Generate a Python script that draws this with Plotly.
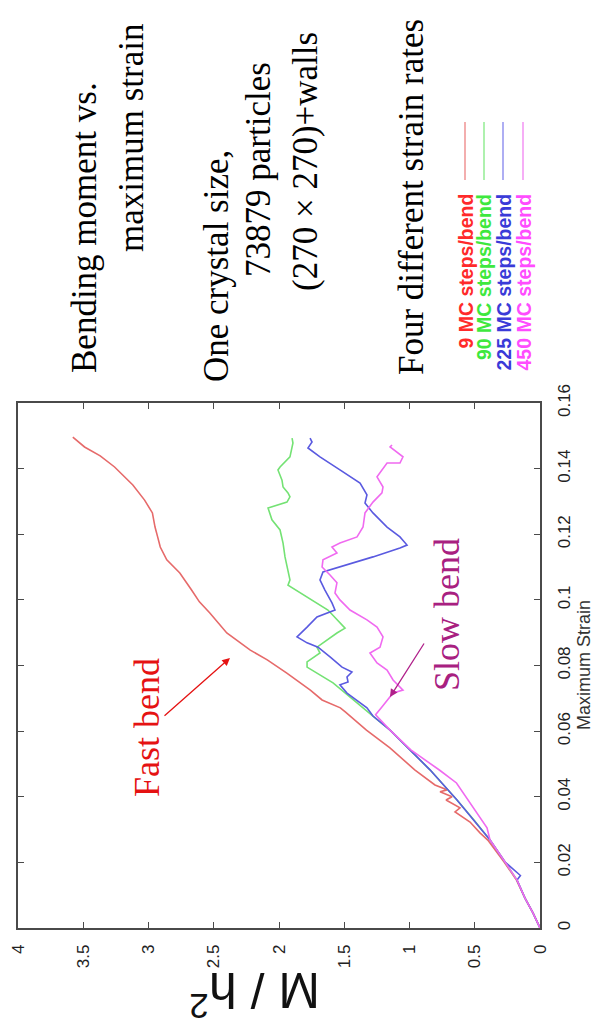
import plotly.graph_objects as go

# ---- data: bending moment M/h^2 versus maximum strain, four bend rates ----
strain_9 = [0, 0.0046, 0.0091, 0.0146, 0.0201, 0.0268, 0.029, 0.0323, 0.0354, 0.0366,
            0.039, 0.040, 0.0415, 0.0421, 0.0436, 0.0482, 0.0549, 0.0603, 0.0658, 0.0671,
            0.0695, 0.0725, 0.0777, 0.0817, 0.0847, 0.0899, 0.096, 0.0994, 0.1030, 0.1082,
            0.1122, 0.1161, 0.1192, 0.1222, 0.1265, 0.1304, 0.1350, 0.1405, 0.1439, 0.1466,
            0.1496]
moment_9 = [0, 0.054, 0.115, 0.18, 0.275, 0.40, 0.46, 0.536, 0.651, 0.613,
            0.72, 0.674, 0.766, 0.713, 0.805, 0.96, 1.15, 1.33, 1.49, 1.53,
            1.67, 1.76, 1.94, 2.09, 2.22, 2.40, 2.53, 2.61, 2.67, 2.76,
            2.86, 2.91, 2.93, 2.95, 2.97, 3.03, 3.12, 3.26, 3.37, 3.49,
            3.58]

strain_90 = [0, 0.0046, 0.0091, 0.0146, 0.0201, 0.0268, 0.0329, 0.0390, 0.0482, 0.0543,
             0.0603, 0.0646, 0.0671, 0.0704, 0.0747, 0.0795, 0.0811, 0.0838, 0.0856, 0.0899,
             0.0914, 0.0969, 0.1009, 0.1045, 0.1061, 0.1091, 0.1131, 0.1173, 0.1213, 0.1244,
             0.1280, 0.1298, 0.1314, 0.1326, 0.1344, 0.1365, 0.1396, 0.1405, 0.1436, 0.1478,
             0.1493]
moment_90 = [0, 0.054, 0.115, 0.176, 0.268, 0.383, 0.506, 0.636, 0.843, 0.996,
             1.149, 1.280, 1.356, 1.456, 1.586, 1.785, 1.785, 1.686, 1.709, 1.556,
             1.494, 1.625, 1.785, 1.931, 1.916, 1.931, 1.954, 1.969, 1.992, 2.054,
             2.084, 1.939, 1.916, 1.931, 1.969, 1.977, 2.008, 1.992, 1.916, 1.893,
             1.900]

strain_225 = [0, 0.0046, 0.0091, 0.0146, 0.0160, 0.0175, 0.0201, 0.0268, 0.0329, 0.0390,
              0.0482, 0.0543, 0.0603, 0.0646, 0.0671, 0.0716, 0.0741, 0.0750, 0.0765, 0.0780,
              0.0795, 0.0826, 0.0856, 0.0869, 0.0887, 0.0917, 0.0948, 0.0969, 0.0991, 0.1030,
              0.1061, 0.1085, 0.1100, 0.1131, 0.1158, 0.1167, 0.1192, 0.1222, 0.1265, 0.1295,
              0.1320, 0.1356, 0.1396, 0.1436, 0.1463, 0.1481, 0.1493]
moment_225 = [0, 0.054, 0.115, 0.176, 0.150, 0.195, 0.268, 0.383, 0.506, 0.636,
              0.843, 0.996, 1.149, 1.280, 1.326, 1.479, 1.533, 1.471, 1.479, 1.441,
              1.517, 1.609, 1.701, 1.785, 1.862, 1.785, 1.709, 1.571, 1.594, 1.648,
              1.686, 1.663, 1.533, 1.280, 1.073, 1.019, 1.073, 1.172, 1.280, 1.341,
              1.326, 1.379, 1.533, 1.686, 1.778, 1.747, 1.762]

strain_450 = [0, 0.0046, 0.0091, 0.0146, 0.0201, 0.0268, 0.0305, 0.036, 0.040, 0.0442,
              0.048, 0.0543, 0.0603, 0.065, 0.0674, 0.0695, 0.0716, 0.0725, 0.0756, 0.0786,
              0.0808, 0.0838, 0.0856, 0.0887, 0.0917, 0.0939, 0.0969, 0.1000, 0.1021, 0.1052,
              0.1076, 0.1100, 0.1122, 0.1143, 0.1161, 0.1173, 0.1192, 0.1222, 0.1265, 0.1298,
              0.1326, 0.1344, 0.1375, 0.1417, 0.1417, 0.1436, 0.1466, 0.1472]
moment_450 = [0, 0.054, 0.115, 0.176, 0.268, 0.383, 0.406, 0.50, 0.57, 0.64,
              0.766, 0.99, 1.149, 1.26, 1.21, 1.17, 1.126, 1.050, 1.126, 1.172,
              1.249, 1.303, 1.226, 1.203, 1.249, 1.326, 1.456, 1.533, 1.571, 1.556,
              1.609, 1.670, 1.663, 1.556, 1.594, 1.533, 1.402, 1.356, 1.341, 1.280,
              1.211, 1.203, 1.249, 1.172, 1.073, 1.050, 1.149, 1.134]

series_names = ["9 MC steps/bend", "90 MC steps/bend", "225 MC steps/bend", "450 MC steps/bend"]
line_colors = ["#e66a6a", "#74e274", "#5a5ae0", "#f06af0"]
label_colors = ["#ff2a2a", "#3ee83e", "#3a3ad8", "#ff4cff"]
key_colors = ["#f09a9a", "#9aee9a", "#9a9af0", "#f49af4"]

moment_ticks = [0, 0.5, 1, 1.5, 2, 2.5, 3, 3.5, 4]
moment_labels = ["0", "0.5", "1", "1.5", "2", "2.5", "3", "3.5", "4"]
strain_ticks = [0, 0.02, 0.04, 0.06, 0.08, 0.1, 0.12, 0.14, 0.16]
strain_labels = ["0", "0.02", "0.04", "0.06", "0.08", "0.1", "0.12", "0.14", "0.16"]

W, H = 596, 1031


def px(x):
    return x / W


def py(y):
    return 1 - y / H


fig = go.Figure()
curves = [(strain_9, moment_9), (strain_90, moment_90),
          (strain_225, moment_225), (strain_450, moment_450)]
for (s, m), name, col in zip(curves, series_names, line_colors):
    fig.add_trace(go.Scatter(x=m, y=s, mode="lines", name=name,
                             line=dict(color=col, width=1.6), showlegend=False))

axis_common = dict(showline=True, linecolor="#4a4a4a", linewidth=1.6, mirror="ticks",
                   ticks="inside", ticklen=6, tickwidth=1.4, tickcolor="#4a4a4a",
                   showgrid=False, zeroline=False, tickangle=-90, automargin=False,
                   tickfont=dict(family="Liberation Sans, Arial", size=17, color="#222"))

fig.update_layout(
    width=W, height=H, autosize=False, showlegend=False,
    margin=dict(l=0, r=0, t=0, b=0, pad=0, autoexpand=False),
    paper_bgcolor="white", plot_bgcolor="white",
    xaxis=dict(domain=[px(18), px(540)], range=[4, 0], tickvals=moment_ticks,
               ticktext=moment_labels, ticklabelstandoff=8, **axis_common),
    yaxis=dict(domain=[py(928), py(403)], range=[0, 0.16], side="right",
               tickvals=strain_ticks, ticktext=strain_labels, ticklabelstandoff=8,
               **axis_common),
)


def note(text, cx, cy, angle, font, xanchor="center", yanchor="middle"):
    return dict(x=px(cx), y=py(cy), xref="paper", yref="paper", text=text,
                showarrow=False, textangle=angle, xanchor=xanchor, yanchor=yanchor,
                font=font)


ann = []
# axis titles
ann.append(note("M / h<sup>2</sup>", 255, 994, 180,
                dict(family="Liberation Sans, Arial", size=50, color="#111")))
ann.append(note("Maximum Strain", 584, 665, -90,
                dict(family="Liberation Sans, Arial", size=18, color="#333")))

# descriptive notes
serif = "Liberation Serif, Times New Roman"
notes = [("Bending moment vs.", 84, 228), ("maximum strain", 131, 138),
         ("One crystal size,", 216, 266), ("73879 particles", 258, 170),
         ("(270 × 270)+walls", 305, 162), ("Four different strain rates", 412, 197)]
for txt, cx, cy in notes:
    ann.append(note(txt, cx, cy, -90, dict(family=serif, size=35, color="black")))

# callouts
ann.append(note("Fast bend", 147, 728, -90, dict(family=serif, size=36, color="#e51212")))
ann.append(dict(x=px(230), y=py(658), xref="paper", yref="paper", text="",
                showarrow=True, ax=-67, ay=59, arrowhead=2, arrowsize=1.2,
                arrowwidth=1.3, arrowcolor="#e51212"))
ann.append(note("Slow bend", 447, 615, -90, dict(family=serif, size=36, color="#a82080")))
ann.append(dict(x=px(390), y=py(697), xref="paper", yref="paper", text="",
                showarrow=True, ax=35, ay=-55, arrowhead=2, arrowsize=1.2,
                arrowwidth=1.3, arrowcolor="#b0208a"))

# key: one column per bend rate
key_x = [465, 484, 503, 523]
shapes = []
for name, kx, tc, kc in zip(series_names, key_x, label_colors, key_colors):
    shapes.append(dict(type="line", xref="paper", yref="paper",
                       x0=px(kx), x1=px(kx), y0=py(122), y1=py(180),
                       line=dict(color=kc, width=1.6)))
    ann.append(note(f"<b>{name}</b>", kx, 192, -90,
                    dict(family="Liberation Sans, Arial", size=19.5, color=tc),
                    yanchor="top"))

fig.update_layout(annotations=ann, shapes=shapes)
fig.write_html("out.html")
